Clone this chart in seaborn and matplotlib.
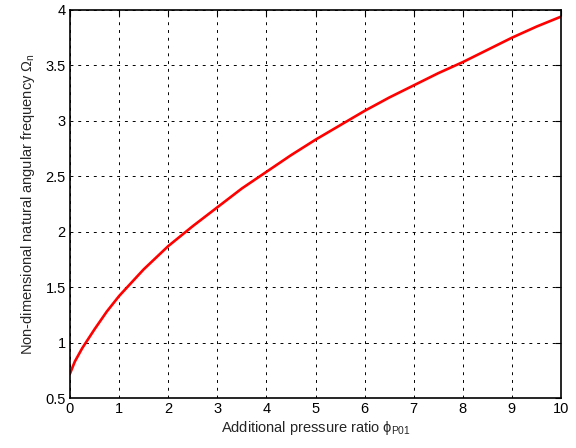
import numpy as np
import pandas as pd
import matplotlib
matplotlib.use("Agg")
import matplotlib.pyplot as plt
import seaborn as sns

# values
pressure_ratio = [0, 0.1, 0.25, 0.5, 0.75, 1, 1.25, 1.5, 2, 2.5, 3, 3.5, 4, 4.5, 5,
                  5.5, 6, 6.5, 7, 7.5, 8, 8.5, 9, 9.5, 10]
omega_n = [0.72, 0.83, 0.95, 1.12, 1.28, 1.42, 1.54, 1.66, 1.87, 2.05, 2.22, 2.39, 2.54,
           2.69, 2.83, 2.96, 3.09, 3.21, 3.32, 3.43, 3.53, 3.64, 3.75, 3.85, 3.94]
x_ticks = [0, 1, 2, 3, 4, 5, 6, 7, 8, 9, 10]
y_ticks = [0.5, 1, 1.5, 2, 2.5, 3, 3.5, 4]

data = pd.DataFrame({"phi": pressure_ratio, "omega": omega_n})

sns.set_style("white")
plt.rcParams["font.family"] = ["Liberation Sans", "DejaVu Sans"]
plt.rcParams["mathtext.fontset"] = "custom"
plt.rcParams["mathtext.rm"] = "Liberation Sans"
plt.rcParams["mathtext.it"] = "Liberation Sans:italic"

fig = plt.figure(figsize=(5.76, 4.48), dpi=100)
ax = fig.add_axes([0.1215, 0.1116, 0.8525, 0.8661])

sns.lineplot(data=data, x="phi", y="omega", color="#ff0000", linewidth=1.9, ax=ax)

ax.set_xlim(0, 10)
ax.set_ylim(0.5, 4)
ax.set_xticks(x_ticks)
ax.set_yticks(y_ticks)
ax.set_yticklabels([f"{t:g}" for t in y_ticks])
ax.grid(True, color="black", linestyle=(0, (3, 5)), linewidth=0.7)
ax.tick_params(direction="in", top=True, right=True, length=4, width=0.8,
               labelsize=10.5, colors="black", pad=3)
for s in ax.spines.values():
    s.set_color("black")
    s.set_linewidth(1.2)

ax.set_xlabel(r"Additional pressure ratio $\mathrm{\phi}_{\mathrm{P01}}$", fontsize=10.5, labelpad=2)
ax.set_ylabel(r"Non-dimensional natural angular frequency $\mathit{\Omega}_{\mathrm{n}}$",
              fontsize=10.5, labelpad=6)

fig.savefig("out.png", dpi=100)
